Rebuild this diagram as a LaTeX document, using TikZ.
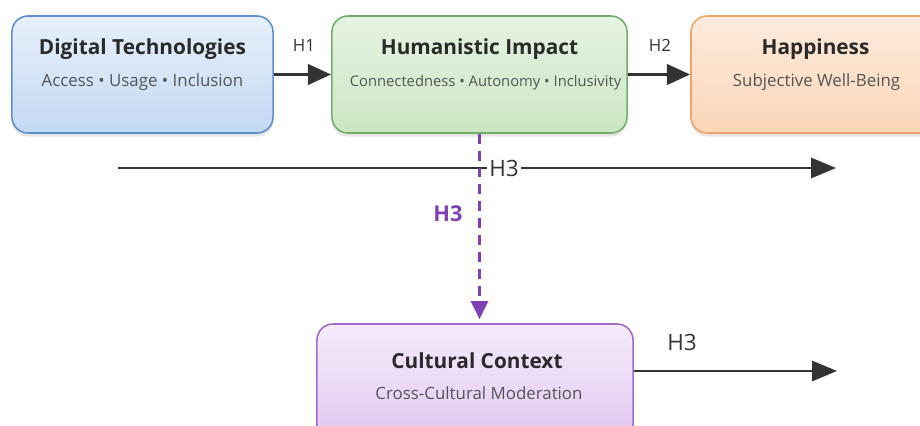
\documentclass[tikz,border=0pt]{standalone}
\usepackage{fontspec}
\setmainfont{Open Sans}
\usetikzlibrary{arrows.meta,shadows}
\definecolor{techLine}{HTML}{5B8FD0}
\definecolor{techTop}{HTML}{E7F0FB}
\definecolor{techBot}{HTML}{C4D9F3}
\definecolor{humLine}{HTML}{72AE6A}
\definecolor{humTop}{HTML}{E6F3E2}
\definecolor{humBot}{HTML}{CBE6C3}
\definecolor{hapLine}{HTML}{EFA46A}
\definecolor{hapTop}{HTML}{FDEBDD}
\definecolor{hapBot}{HTML}{FBD6B8}
\definecolor{culLine}{HTML}{A36BC9}
\definecolor{culTop}{HTML}{F5EBFB}
\definecolor{culBot}{HTML}{E1C8F1}
\definecolor{modPurple}{HTML}{7E40B4}
\definecolor{textDark}{HTML}{2A2A2A}
\definecolor{textGray}{HTML}{555555}
\definecolor{arrowGray}{HTML}{333333}
\begin{document}
\begin{tikzpicture}[x=0.025cm,y=-0.025cm,
    box/.style={rounded corners=0.4cm, line width=1.1pt, minimum height=2.925cm, inner sep=0pt,
      drop shadow={shadow xshift=0pt, shadow yshift=-2.5pt, opacity=0.10, fill=black}},
    title/.style={font=\bfseries\fontsize{14.8}{17}\selectfont, text=textDark, anchor=base, inner sep=0pt},
    subtitle/.style={font=\fontsize{12}{14}\selectfont, text=textGray, anchor=base, inner sep=0pt},
    hsmall/.style={font=\fontsize{12}{14}\selectfont, text=arrowGray, anchor=base, inner sep=0pt},
    hbig/.style={font=\fontsize{16}{18}\selectfont, text=arrowGray, inner sep=1.5pt},
    flow/.style={-{Triangle[length=0.58cm,width=0.5cm]}, line width=2.8pt, draw=arrowGray},
    longflow/.style={-{Triangle[length=0.62cm,width=0.5cm]}, line width=1.8pt, draw=arrowGray},
    modflow/.style={-{Triangle[length=0.45cm,width=0.42cm]}, line width=2.2pt, draw=modPurple,
      dash pattern=on 7pt off 5pt, shorten >=0.1cm}]
  \useasboundingbox (0,0) rectangle (920,426);
  % Boxes
  \node[box, draw=techLine, top color=techTop, bottom color=techBot, minimum width=6.525cm] (tech) at (142.5,74.5) {};
  \node[box, draw=humLine, top color=humTop, bottom color=humBot, minimum width=7.375cm] (hum) at (479.5,74.5) {};
  \node[box, draw=hapLine, top color=hapTop, bottom color=hapBot, minimum width=6.225cm] (hap) at (815.5,74.5) {};
  \node[box, draw=culLine, top color=culTop, bottom color=culBot, minimum width=7.9cm] (cul) at (475,382.5) {};
  % Box texts
  \node[title] (techT) at (142.5,55) {Digital Technologies};
  \node[subtitle] (techS) at (142.5,87) {Access • Usage • Inclusion};
  \node[title] (humT) at (479.5,55) {Humanistic Impact};
  \node[subtitle, font=\fontsize{10.5}{12}\selectfont] (humS) at (485.5,87) {Connectedness • Autonomy • Inclusivity};
  \node[title] (hapT) at (815.5,55) {Happiness};
  \node[subtitle] (hapS) at (816.5,87) {Subjective Well-Being};
  \node[title] (culT) at (477,368) {Cultural Context};
  \node[subtitle] (culS) at (479,399) {Cross-Cultural Moderation};
  % Direct paths
  \draw[flow] (tech.east) -- (hum.west);
  \node[hsmall] (h1) at (304,52) {H1};
  \draw[flow] (hum.east) -- (hap.west);
  \node[hsmall] (h2) at (660,52) {H2};
  % Long H3 line
  \coordinate (lineStart) at (118,168);
  \coordinate (lineEnd) at (836,168);
  \draw[longflow] (lineStart) -- (lineEnd);
  \node[hbig, fill=white] (h3line) at (504,168) {H3};
  % Moderation path
  \draw[modflow] (hum.south) -- (hum.south |- cul.north);
  \node[font=\bfseries\fontsize{15.5}{17}\selectfont, text=modPurple, anchor=base, inner sep=0pt] (h3mod) at (448,222) {H3};
  % Cultural H3 line
  \coordinate (culEnd) at (837,371);
  \draw[longflow] (cul.east |- culEnd) -- (culEnd);
  \node[hbig, anchor=base, inner sep=0pt] (h3cul) at (682,350) {H3};
\end{tikzpicture}
\end{document}
